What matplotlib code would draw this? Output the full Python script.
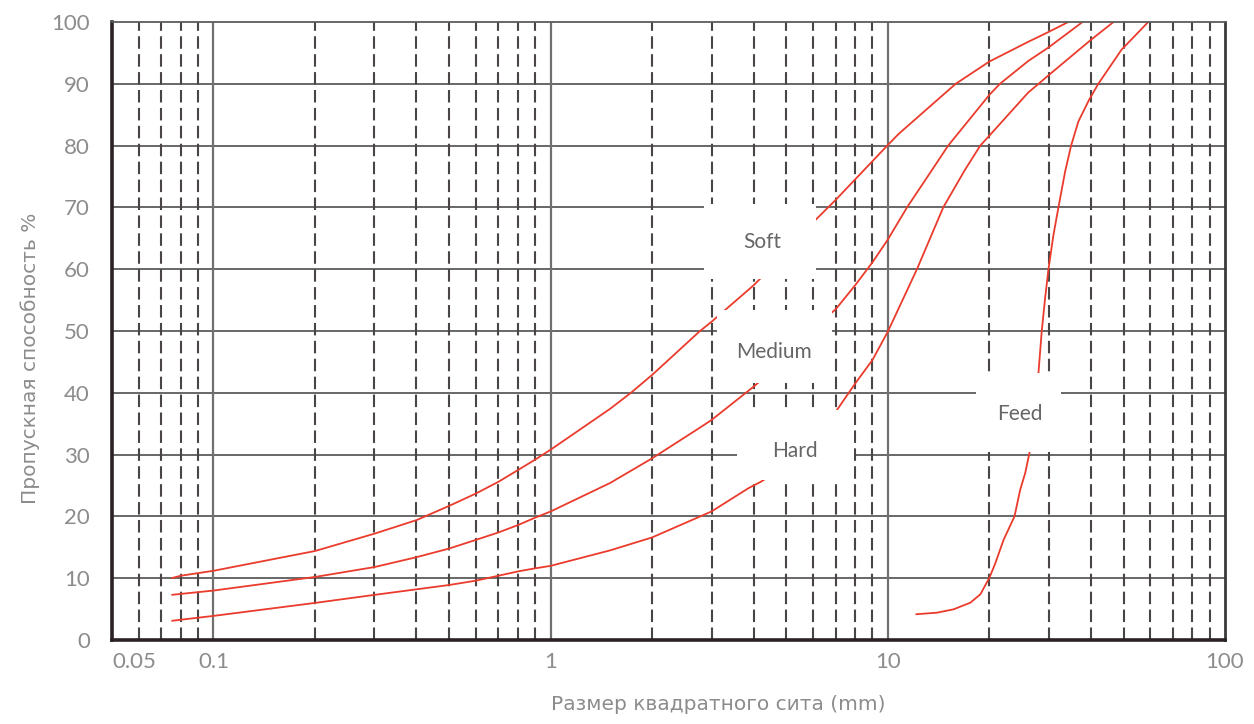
import matplotlib
matplotlib.use("Agg")
import matplotlib.pyplot as plt
from matplotlib.patches import Rectangle

# ---------------- data ----------------
soft_x = [0.075, 0.08, 0.1, 0.2, 0.3, 0.4, 0.5, 0.6, 0.7, 0.8, 0.9, 1.0, 1.5, 1.73, 2.0, 2.76, 3.0, 4.0,
          5.0, 6.11, 7.0, 10.0, 10.77, 13.5, 15.9, 20.0, 26.1, 30.0, 34.3]
soft_y = [10.0, 10.4, 11.2, 14.4, 17.2, 19.4, 21.7, 23.7, 25.6, 27.5, 29.2, 30.8, 37.4, 40.0, 42.9, 49.9, 51.5, 57.4,
          62.7, 68.0, 71.2, 80.1, 81.9, 86.6, 90.0, 93.6, 96.8, 98.4, 100.0]

medium_x = [0.075, 0.1, 0.2, 0.3, 0.4, 0.5, 0.6, 0.7, 0.8, 0.9, 1.0, 1.5, 2.0, 2.76, 3.0, 4.0, 4.2,
            5.0, 6.0, 6.76, 7.0, 8.0, 9.0, 10.0, 11.4, 13.5, 15.1, 20.0, 21.5, 26.1, 30.0, 37.8]
medium_y = [7.3, 8.0, 10.2, 11.8, 13.4, 14.8, 16.2, 17.4, 18.6, 19.8, 20.8, 25.4, 29.4, 34.3, 35.6, 41.0, 42.0,
            45.4, 49.8, 52.8, 53.5, 57.4, 61.1, 64.8, 70.0, 76.0, 80.0, 88.2, 90.0, 93.7, 95.9, 100.0]

hard_x = [0.075, 0.1, 0.2, 0.3, 0.4, 0.5, 0.6, 0.7, 0.8, 0.9, 1.0, 1.5, 2.0, 3.0, 3.87, 4.2,
          5.0, 6.0, 7.0, 8.0, 9.0, 10.0, 12.2, 14.6, 16.9, 18.8, 20.0, 26.1, 28.0, 30.0, 40.0, 46.7]
hard_y = [3.1, 3.9, 6.0, 7.3, 8.2, 8.9, 9.6, 10.4, 11.1, 11.6, 12.0, 14.5, 16.6, 20.8, 24.6, 25.6,
          28.2, 32.2, 36.9, 41.5, 45.3, 49.9, 60.0, 70.0, 76.0, 80.0, 81.6, 88.6, 90.0, 91.4, 97.1, 100.0]

feed_x = [12.08, 13.99, 15.68, 17.57, 18.81, 19.98, 20.83, 22.04, 23.75, 24.69, 25.55, 26.31, 27.2,
          27.97, 28.61, 29.27, 29.95, 30.98, 32.06, 33.56, 34.96, 36.74, 39.52, 42.1, 49.3, 59.2]
feed_y = [4.16, 4.42, 4.97, 6.04, 7.39, 10.0, 12.4, 16.2, 20.0, 24.3, 27.0, 30.3, 37.0,
          43.2, 50.0, 55.3, 60.0, 65.5, 70.0, 75.8, 80.0, 83.9, 87.4, 90.0, 95.5, 100.0]

series_names = ["Soft", "Medium", "Hard", "Feed"]

xtick_vals = [0.05, 0.1, 1, 10, 100]
xtick_labels = ["0.05", "0.1", "1", "10", "100"]
ytick_vals = [0, 10, 20, 30, 40, 50, 60, 70, 80, 90, 100]
major_grid_x = [0.1, 1, 10]
minor_grid_x = [0.06, 0.07, 0.08, 0.09,
                0.2, 0.3, 0.4, 0.5, 0.6, 0.7, 0.8, 0.9,
                2, 3, 4, 5, 6, 7, 8, 9,
                20, 30, 40, 50, 60, 70, 80, 90]

xlabel = "Размер квадратного сита (mm)"
ylabel = "Пропускная способность %"

# ---------------- layout / style ----------------
W, H = 1254, 724
fig = plt.figure(figsize=(W / 100, H / 100), dpi=100)
ax = fig.add_axes([112 / W, 1 - 640 / H, (1225 - 112) / W, (640 - 22) / H])
ax.set_xscale("log")
ax.set_xlim(0.05, 100)
ax.set_ylim(0, 100)

TICK_FONT = ["Lato", "DejaVu Sans"]
LABEL_FONT = ["DejaVu Sans"]
GRAY_TXT = "#8c8c8c"
RED = "#ea3b2c"

for yv in ytick_vals[1:-1]:
    ax.axhline(yv, color="#5c5c5c", lw=1.3, zorder=1)
for xv in major_grid_x:
    ax.axvline(xv, color="#707070", lw=1.6, zorder=1)
for xv in minor_grid_x:
    ax.axvline(xv, color="#4a4545", lw=1.5, ls=(0, (6.0, 2.6)), zorder=1)

for xs, ys in [(soft_x, soft_y), (medium_x, medium_y), (hard_x, hard_y), (feed_x, feed_y)]:
    ax.plot(xs, ys, color=RED, lw=1.3, zorder=2, solid_joinstyle="round",
            solid_capstyle="butt")

# white label boxes (data coords on log-x axis)
boxes = {
    "Soft":   ((2.84, 58.4), (6.12, 70.6), (4.24, 64.4)),
    "Medium": ((3.12, 41.6), (6.84, 53.4), (4.60, 46.6)),
    "Hard":   ((3.57, 25.9), (7.94, 37.2), (5.31, 30.6)),
    "Feed":   ((18.2, 30.4), (32.7, 43.2), (24.7, 36.6)),
}
for name in series_names:
    (x0, y0), (x1, y1), (tx, ty) = boxes[name]
    ax.add_patch(Rectangle((x0, y0), x1 - x0, y1 - y0, facecolor="white",
                           edgecolor="none", zorder=3))
    ax.text(tx, ty, name, ha="center", va="center", fontsize=15, color="#666666",
            family=TICK_FONT, zorder=4)

# spines
ax.spines["left"].set(color="#2a2222", lw=2.6)
ax.spines["bottom"].set(color="#2a2222", lw=2.6)
ax.spines["right"].set(color="#3a3a3a", lw=2.0)
ax.spines["top"].set(color="#5c5c5c", lw=1.3)

ax.set_xticks(xtick_vals)
ax.set_xticklabels(xtick_labels)
ax.xaxis.set_minor_locator(matplotlib.ticker.NullLocator())
ax.set_yticks(ytick_vals)
ax.set_yticklabels([str(v) for v in ytick_vals])
ax.tick_params(axis="both", length=0, labelsize=16, labelcolor=GRAY_TXT)
ax.tick_params(axis="x", pad=9)
ax.tick_params(axis="y", pad=16)
for lab in ax.get_xticklabels() + ax.get_yticklabels():
    lab.set_family(TICK_FONT)
ax.get_xticklabels()[0].set_ha("left")

fig.text(30 / W, 1 - 358 / H, ylabel, rotation=90, ha="center", va="center",
         fontsize=14.5, color=GRAY_TXT, family=LABEL_FONT)
fig.text(718 / W, 1 - 705 / H, xlabel, ha="center", va="center",
         fontsize=14.5, color=GRAY_TXT, family=LABEL_FONT)

fig.savefig("out.png", dpi=100)
